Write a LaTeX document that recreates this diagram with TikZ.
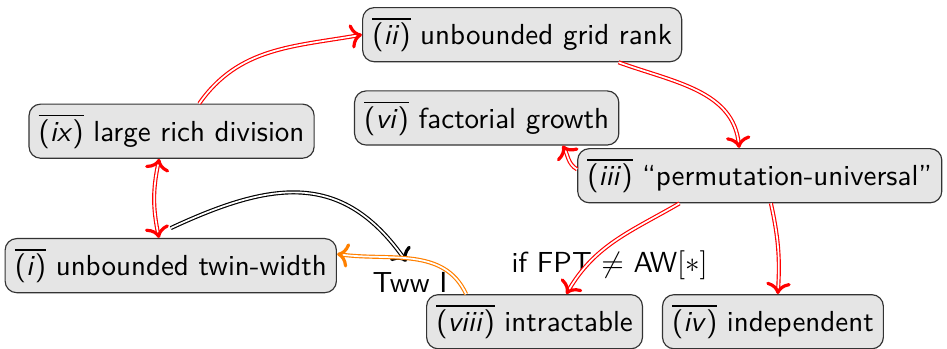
\documentclass[tikz,border=0pt]{standalone}
\usepackage{xcolor}
\usepackage{amsmath}
\usepackage{tikz}
\usetikzlibrary{positioning, arrows.meta, decorations.markings}

\newcommand{\negp}[1]{$\overline{\text{(\textit{#1})}}$}

\begin{document}
\begin{tikzpicture}[
    pnode/.style={draw=black!80, fill=black!10, rounded corners, align=center, font=\sffamily},
    endtip/.style={shorten >=1.2pt, postaction={decorate, decoration={markings,
        mark=at position 0.999 with {\pgfsetinnerlinewidth{0pt}\arrow[line width=1.1pt]{To}}}}},
    starttip/.style={shorten <=1.2pt, postaction={decorate, decoration={markings,
        mark=at position 0.001 with {\pgfsetinnerlinewidth{0pt}\arrowreversed[line width=1.1pt]{To}}}}},
    impl/.style={draw=red, double, endtip},
    lbl/.style={font=\sffamily}
]
\useasboundingbox (0,0) rectangle (11.48,-4.23);

\node[pnode] (ii) at (6.33,-0.42) {\negp{ii} unbounded grid rank};
\node[pnode] (ix) at (2.08,-1.59) {\negp{ix} large rich division};
\node[pnode] (vi) at (5.90,-1.43) {\negp{vi} factorial growth};
\node[pnode] (iii) at (9.21,-2.13) {\negp{iii} ``permutation-universal''};
\node[pnode] (i) at (2.07,-3.22) {\negp{i} unbounded twin-width};
\node[pnode] (viii) at (6.48,-3.90) {\negp{viii} intractable};
\node[pnode] (iv) at (9.37,-3.90) {\negp{iv} independent};

\node[lbl] (fpt) at (7.39,-3.21) {if FPT $\neq$ AW$[*]$};
\node[lbl] (tww) at (4.97,-3.42) {Tww I};

\draw[impl] (ix.45) to[out=55, in=190] (ii.west);
\draw[impl] (ii.-16) to[out=-20, in=95] ([xshift=-0.25cm]iii.north);
\draw[impl] (iii.178) to[out=150, in=-60] (vi.-20);
\draw[impl] (iii.-161) to[out=-150, in=60] (viii.41);
\draw[impl] (iii.-68) to[bend left=8] (iv.80);
\draw[impl, starttip] (ix.-114) to[bend right=12] (i.113);
\draw[double, endtip] ([yshift=0.12cm]i.north) to[out=25, in=125, looseness=1.2] (tww.100);
\draw[impl, draw=orange] (viii.158) to[out=115, in=-8] (i.4);
\end{tikzpicture}
\end{document}
